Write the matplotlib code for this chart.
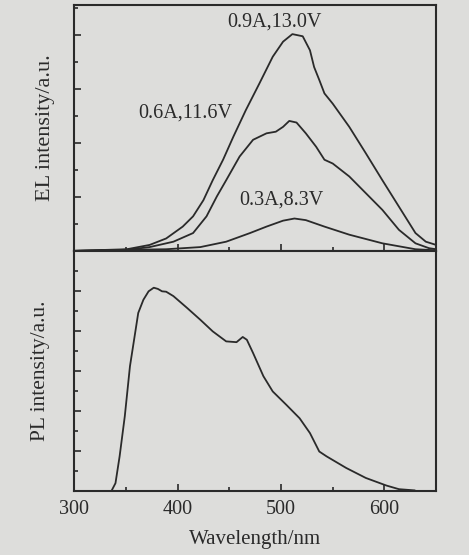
import matplotlib.pyplot as plt
from matplotlib.ticker import MultipleLocator, NullFormatter

plt.rcParams['font.family'] = ['Liberation Serif', 'DejaVu Serif']

# EL spectra (wavelength nm, intensity a.u.)
el_wl_09 = [300, 351, 373, 389, 405, 415, 425, 434, 444, 454, 466, 479, 492, 502, 511, 521,
            528, 532, 537, 542, 550, 566, 582, 598, 614, 630, 640, 650]
el_09 = [0.0, 0.03, 0.11, 0.23, 0.45, 0.64, 0.94, 1.31, 1.69, 2.12, 2.61, 3.10, 3.60, 3.88, 4.02, 3.98,
         3.72, 3.41, 3.17, 2.92, 2.73, 2.30, 1.81, 1.31, 0.82, 0.33, 0.17, 0.11]
el_wl_06 = [300, 351, 373, 396, 415, 428, 438, 447, 460, 473, 486, 495, 502, 508, 515, 524,
            534, 542, 550, 566, 582, 598, 614, 630, 643, 650]
el_06 = [0.0, 0.02, 0.07, 0.17, 0.33, 0.64, 1.01, 1.31, 1.75, 2.06, 2.18, 2.21, 2.30, 2.41, 2.38, 2.18,
         1.93, 1.69, 1.62, 1.38, 1.07, 0.76, 0.39, 0.14, 0.05, 0.03]
el_wl_03 = [300, 351, 389, 422, 447, 470, 486, 502, 513, 524, 542, 566, 598, 630, 650]
el_03 = [0.0, 0.02, 0.03, 0.07, 0.17, 0.33, 0.45, 0.56, 0.60, 0.57, 0.45, 0.30, 0.14, 0.03, 0.01]
el_labels = ['0.9A,13.0V', '0.6A,11.6V', '0.3A,8.3V']

# PL spectrum
pl_wl = [336, 340, 344, 349, 354, 359, 362, 367, 372, 377, 381, 385, 389, 396, 409, 422, 434, 447,
         457, 463, 467, 473, 483, 492, 505, 518, 528, 537, 544, 563, 582, 602, 614, 629]
pl = [0.0, 0.20, 0.87, 1.87, 3.12, 3.95, 4.45, 4.78, 4.99, 5.08, 5.05, 4.99, 4.98, 4.87, 4.58, 4.28,
      3.99, 3.74, 3.72, 3.85, 3.78, 3.45, 2.87, 2.49, 2.16, 1.82, 1.45, 0.99, 0.87, 0.58, 0.33, 0.14,
      0.05, 0.02]

bg = '#dddddb'
ink = '#2a2a2a'

fig = plt.figure(figsize=(4.69, 5.55), dpi=100, facecolor=bg)
ax1 = fig.add_axes([0.158, 0.548, 0.772, 0.443], facecolor=bg)
ax2 = fig.add_axes([0.158, 0.115, 0.772, 0.433], facecolor=bg)

for x, y in [(el_wl_09, el_09), (el_wl_06, el_06), (el_wl_03, el_03)]:
    ax1.plot(x, y, color=ink, lw=1.3)
ax1.text(494, 4.25, el_labels[0], ha='center', va='center', fontsize=14.5, color=ink)
ax1.text(407, 2.55, el_labels[1], ha='center', va='center', fontsize=14.5, color=ink)
ax1.text(500, 0.94, el_labels[2], ha='center', va='center', fontsize=14.5, color=ink)
ax1.set_xlim(300, 650)
ax1.set_ylim(0, 4.56)
ax1.set_ylabel('EL intensity/a.u.', fontsize=16, color=ink, labelpad=8)
ax1.yaxis.set_major_locator(MultipleLocator(1))
ax1.yaxis.set_minor_locator(MultipleLocator(0.5))
ax1.xaxis.set_major_locator(MultipleLocator(100))
ax1.xaxis.set_minor_locator(MultipleLocator(50))
ax1.yaxis.set_major_formatter(NullFormatter())
ax1.xaxis.set_major_formatter(NullFormatter())

ax2.plot(pl_wl, pl, color=ink, lw=1.3)
ax2.set_xlim(300, 650)
ax2.set_ylim(0, 6)
ax2.set_xlabel('Wavelength/nm', fontsize=15, color=ink, labelpad=8)
ax2.set_ylabel('PL intensity/a.u.', fontsize=15.5, color=ink, labelpad=11)
ax2.yaxis.set_major_locator(MultipleLocator(1))
ax2.yaxis.set_minor_locator(MultipleLocator(0.5))
ax2.xaxis.set_major_locator(MultipleLocator(100))
ax2.xaxis.set_minor_locator(MultipleLocator(50))
ax2.yaxis.set_major_formatter(NullFormatter())

for ax in (ax1, ax2):
    for s in ax.spines.values():
        s.set_color(ink)
        s.set_linewidth(1.5)
    ax.tick_params(which='both', direction='in', color=ink, labelcolor=ink, labelsize=14.5, width=1.2)
    ax.tick_params(which='major', length=5, pad=6)
    ax.tick_params(which='minor', length=3)

plt.savefig('out.png', dpi=100, facecolor=bg)
